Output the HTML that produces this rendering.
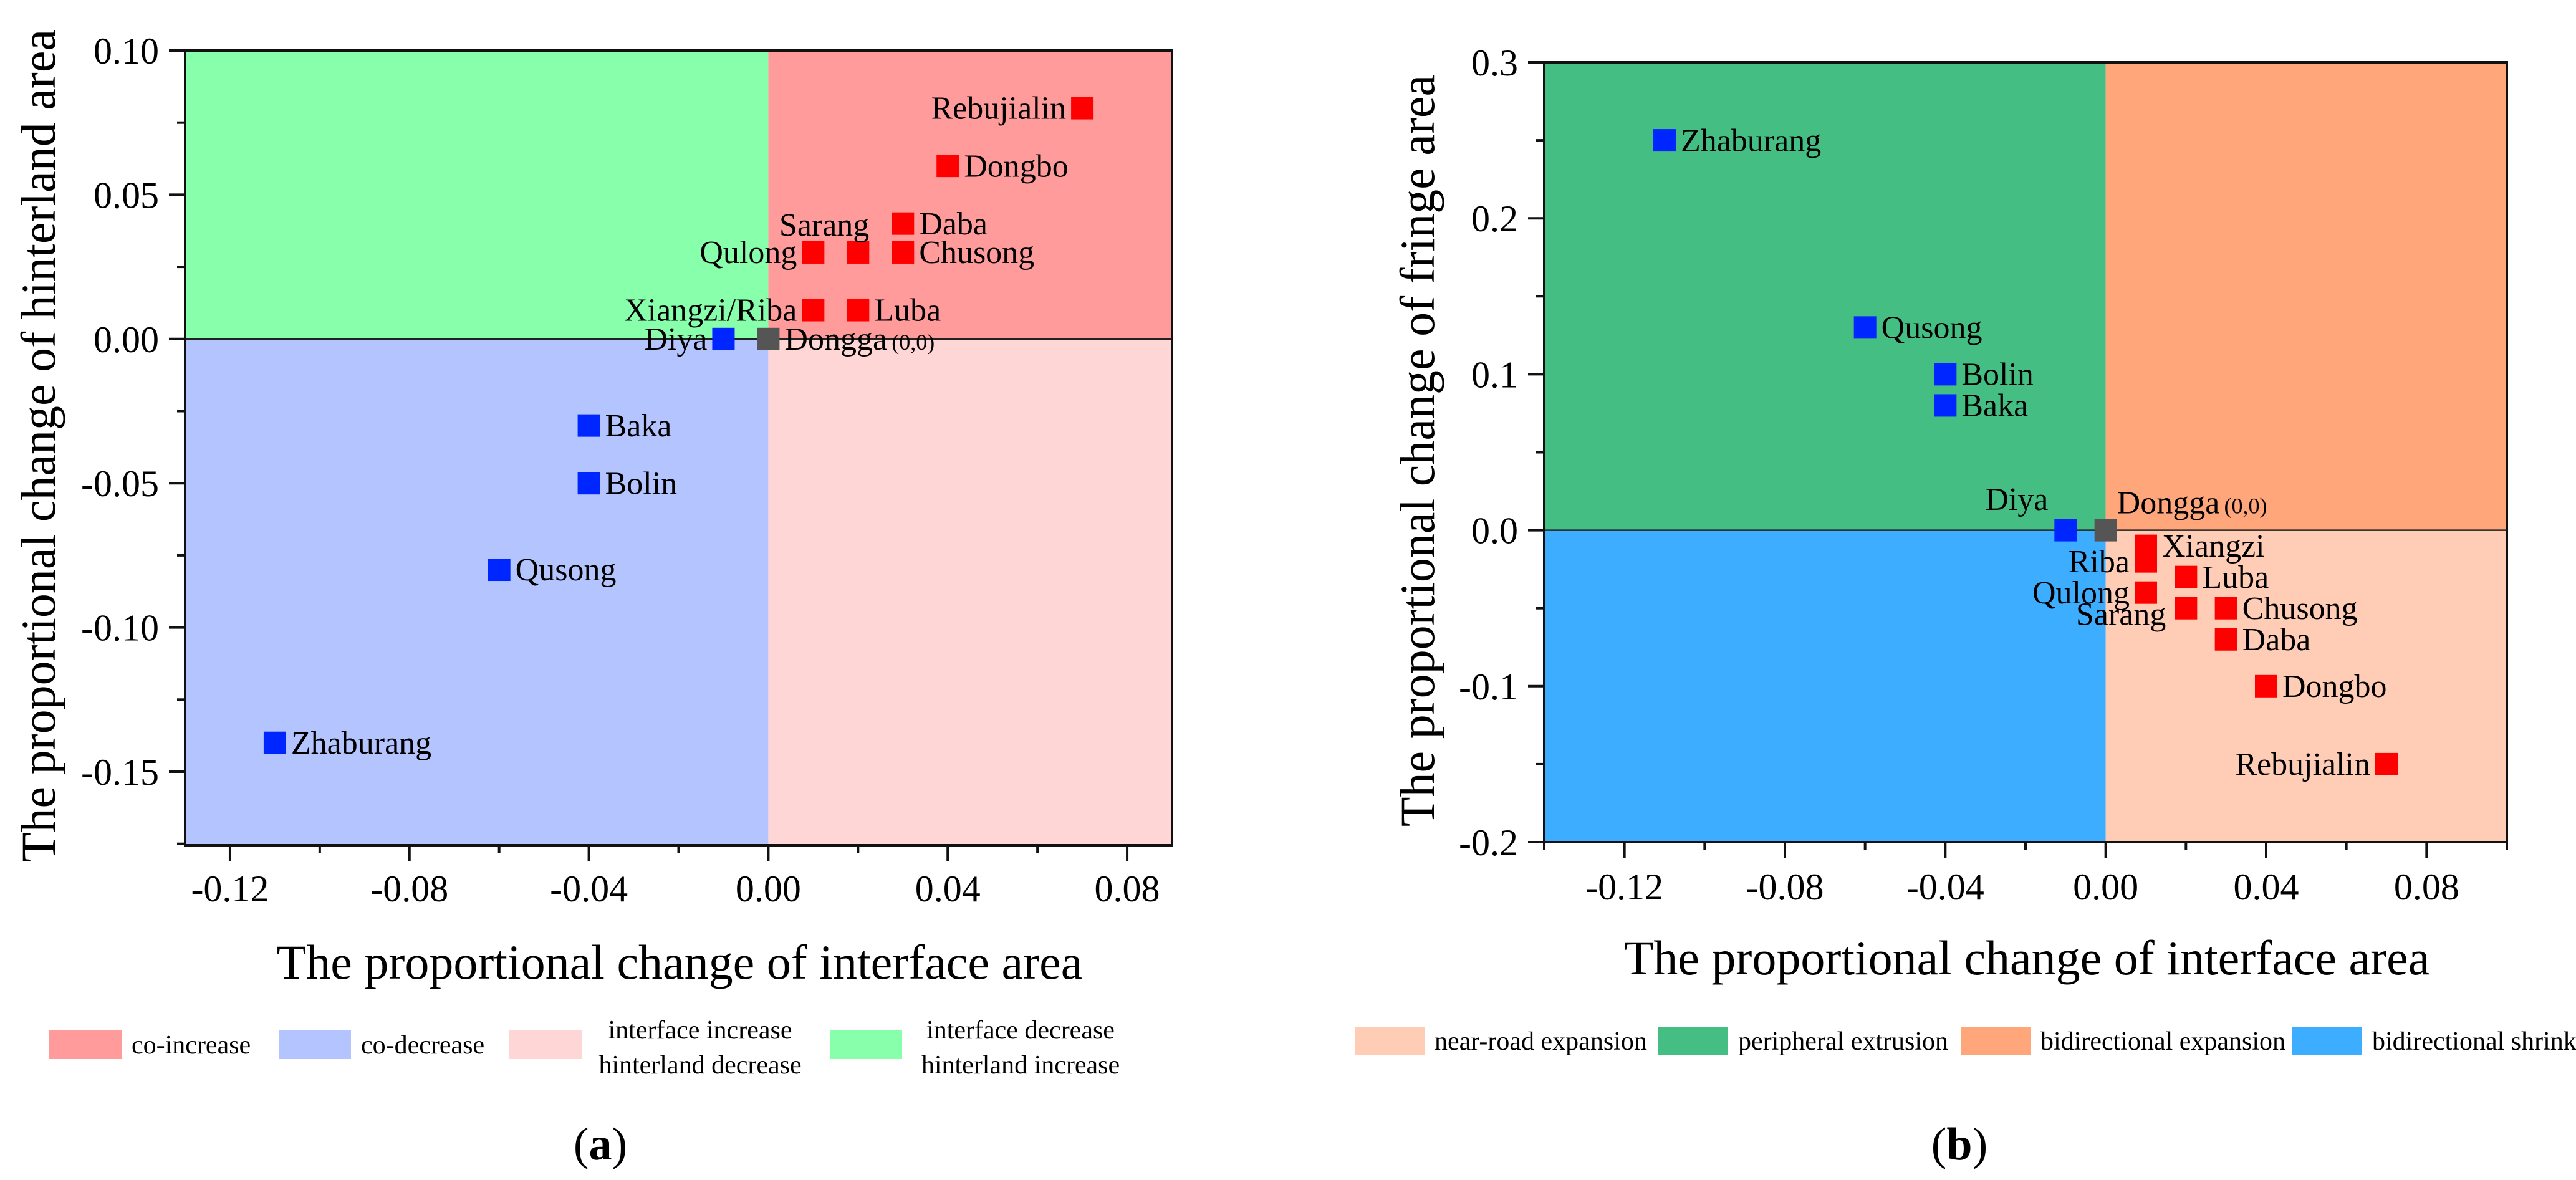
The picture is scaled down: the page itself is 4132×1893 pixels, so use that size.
<!DOCTYPE html>
<html><head><meta charset="utf-8"><style>
html,body{margin:0;padding:0;background:#fff;}
svg{display:block;font-family:"Liberation Serif",serif;}
</style></head><body>
<svg id="fig" width="4132" height="1893" viewBox="0 0 4132 1893" xmlns="http://www.w3.org/2000/svg">
<g id="chartA"></g>
<g id="chartB"></g>
</svg>
<script>
// ---- Chart (a) data ----
const namesA = ["Rebujialin","Dongbo","Daba","Sarang","Qulong","Chusong","Xiangzi/Riba","Luba","Diya","Dongga","Baka","Bolin","Qusong","Zhaburang"];
const xA = [0.07,0.04,0.03,0.02,0.01,0.03,0.01,0.02,-0.01,0,-0.04,-0.04,-0.06,-0.11];
const yA = [0.08,0.06,0.04,0.03,0.03,0.03,0.01,0.01,0,0,-0.03,-0.05,-0.08,-0.14];
const groupA = ["r","r","r","r","r","r","r","r","b","g","b","b","b","b"];
const placeA = ["l","r","r","tl","l","r","l","r","l","r","r","r","r","r"];
const xTicksA = [-0.12,-0.08,-0.04,0.00,0.04,0.08];
const xTickLabelsA = ["-0.12","-0.08","-0.04","0.00","0.04","0.08"];
const yTicksA = [0.10,0.05,0.00,-0.05,-0.10,-0.15];
const yTickLabelsA = ["0.10","0.05","0.00","-0.05","-0.10","-0.15"];
const legendA = ["co-increase","co-decrease","interface increase|hinterland decrease","interface decrease|hinterland increase"];

// ---- Chart (b) data ----
const namesB = ["Zhaburang","Qusong","Bolin","Baka","Diya","Dongga","Xiangzi","Riba","Qulong","Luba","Sarang","Chusong","Daba","Dongbo","Rebujialin"];
const xB = [-0.11,-0.06,-0.04,-0.04,-0.01,0,0.01,0.01,0.01,0.02,0.02,0.03,0.03,0.04,0.07];
const yB = [0.25,0.13,0.10,0.08,0,0,-0.01,-0.02,-0.04,-0.03,-0.05,-0.05,-0.07,-0.10,-0.15];
const groupB = ["b","b","b","b","b","g","r","r","r","r","r","r","r","r","r"];
const placeB = ["r","r","r","r","tL","tr","r","l","l","r","bl","r","r","r","l"];
const xTicksB = [-0.12,-0.08,-0.04,0.00,0.04,0.08];
const xTickLabelsB = ["-0.12","-0.08","-0.04","0.00","0.04","0.08"];
const yTicksB = [0.3,0.2,0.1,0.0,-0.1,-0.2];
const yTickLabelsB = ["0.3","0.2","0.1","0.0","-0.1","-0.2"];
const legendB = ["near-road expansion","peripheral extrusion","bidirectional expansion","bidirectional shrink"];

const NS="http://www.w3.org/2000/svg";
function mk(parent,tag,attrs,text){const e=document.createElementNS(NS,tag);for(const k in attrs)e.setAttribute(k,attrs[k]);if(text!==undefined)e.textContent=text;parent.appendChild(e);return e;}
const markerColor={r:"#ff0000",b:"#0026ff",g:"#555555"};

function drawChart(root,cfg){
  const {L,R,T,B,xmin,xmax,ymin,ymax}=cfg;
  const sx=v=>L+(v-xmin)/(xmax-xmin)*(R-L);
  const sy=v=>B-(v-ymin)/(ymax-ymin)*(B-T);
  const x0=sx(0),y0=sy(0);
  const quads=[[L,T,x0,y0,cfg.qTL,"quadrant-top-left"],[x0,T,R,y0,cfg.qTR,"quadrant-top-right"],[L,y0,x0,B,cfg.qBL,"quadrant-bottom-left"],[x0,y0,R,B,cfg.qBR,"quadrant-bottom-right"]];
  quads.forEach(q=>{const r=mk(root,"rect",{x:q[0],y:q[1],width:q[2]-q[0],height:q[3]-q[1],fill:q[4]});
    
    });
  const zl=mk(root,"line",{x1:L,x2:R,y1:y0,y2:y0,stroke:"#222",'stroke-width':2.5});
  
  
  const fr=mk(root,"rect",{x:L,y:T,width:R-L,height:B-T,fill:"none",stroke:"#111",'stroke-width':4});
  
  
  for(let v=cfg.xMinorStart; v<=xmax+1e-9; v+=cfg.xMinor){
    const X=sx(v);const major=cfg.xTicks.some(t=>Math.abs(t-v)<1e-6);
    mk(root,"line",{x1:X,x2:X,y1:B,y2:B+(major?26:13),stroke:"#111",'stroke-width':4});
  }
  cfg.xTicks.forEach((v,i)=>{const t=mk(root,"text",{x:sx(v),y:B+cfg.xLabOff,'font-size':60,'text-anchor':'middle'},cfg.xLabels[i]);
    
    });
  for(let v=cfg.yMinorStart; v<=ymax+1e-9; v+=cfg.yMinor){
    const Y=sy(v);const major=cfg.yTicks.some(t=>Math.abs(t-v)<1e-6);
    mk(root,"line",{x1:L-(major?26:13),x2:L,y1:Y,y2:Y,stroke:"#111",'stroke-width':4});
  }
  cfg.yTicks.forEach((v,i)=>{const t=mk(root,"text",{x:L-42,y:sy(v)+21,'font-size':60,'text-anchor':'end'},cfg.yLabels[i]);
    
    });
  const xt=mk(root,"text",{x:cfg.xTitleX,y:cfg.xTitleY,'font-size':78,'text-anchor':'middle'},"The proportional change of interface area");
  
  
  const yt=mk(root,"text",{x:0,y:0,'font-size':78,'text-anchor':'middle',transform:`translate(${cfg.yTitleX},${cfg.yTitleY}) rotate(-90)`},cfg.yTitle);
  
  
  const ms=36,fs=52;
  cfg.names.forEach((n,i)=>{
    const X=sx(cfg.xs[i]),Y=sy(cfg.ys[i]);
    const m=mk(root,"rect",{x:X-ms/2,y:Y-ms/2,width:ms,height:ms,fill:markerColor[cfg.groups[i]]});
    
    
    const p=cfg.place[i];let tx,ty,anc;
    if(p==="r"){tx=X+ms/2+8;ty=Y+fs*0.33;anc="start";}
    else if(p==="l"){tx=X-ms/2-8;ty=Y+fs*0.33;anc="end";}
    else if(p==="tl"){tx=X+ms/2;ty=Y-ms*0.75;anc="end";}
    else if(p==="tL"){tx=X-ms/2-10;ty=Y-ms*0.9;anc="end";}
    else if(p==="tr"){tx=X+ms/2;ty=Y-ms*0.75;anc="start";}
    else {tx=X-ms/2-14;ty=Y+ms*0.75;anc="end";}
    const t=mk(root,"text",{x:tx,y:ty,'font-size':fs,'text-anchor':anc},n);
    if(n==="Dongga"){mk(t,"tspan",{'font-size':36},"\u2009(0,0)");}
    
    
  });
  cfg.legend.forEach((lab,i)=>{
    const lx=cfg.legX[i];
    const sw=mk(root,"rect",{x:lx,y:cfg.legY,width:cfg.swW,height:cfg.swH,fill:cfg.legCol[i]});
    
    
    const parts=lab.split("|");
    if(parts.length===1){
      const t=mk(root,"text",{x:lx+cfg.swW+16,y:cfg.legY+cfg.swH/2+14,'font-size':42},lab);
      
      
    } else {
      parts.forEach((pt,j)=>{const t=mk(root,"text",{x:lx+cfg.swW+190,y:cfg.legY+cfg.swH/2-10+j*56,'font-size':42,'text-anchor':'middle'},pt);
        
        });
    }
  });
  const sl=mk(root,"text",{x:cfg.subX,y:1860,'font-size':74,'text-anchor':'middle'},"(");
  mk(sl,"tspan",{'font-weight':'bold'},cfg.sub);
  mk(sl,"tspan",{},")");
  
  
}

drawChart(document.getElementById("chartA"),{
  L:297,R:1880,T:81,B:1356,xmin:-0.13,xmax:0.09,ymin:-0.1755,ymax:0.10,
  qTL:"#87ffab",qTR:"#ff9b9b",qBL:"#b4c4ff",qBR:"#ffd6d6",
  xTicks:xTicksA,xLabels:xTickLabelsA,yTicks:yTicksA,yLabels:yTickLabelsA,
  xMinor:0.02,xMinorStart:-0.12,yMinor:0.025,yMinorStart:-0.175,xLabOff:90,
  xTitleX:1090,xTitleY:1570,yTitleX:88,yTitleY:715,yTitle:"The proportional change of hinterland area",
  names:namesA,xs:xA,ys:yA,groups:groupA,place:placeA,
  legend:legendA,legX:[79,447,817,1331],legY:1653,swW:116,swH:46,
  legCol:["#ff9b9b","#b4c4ff","#ffd6d6","#87ffab"],subX:963,sub:"a"
});
drawChart(document.getElementById("chartB"),{
  L:2477,R:4021,T:100,B:1351,xmin:-0.14,xmax:0.10,ymin:-0.2,ymax:0.3,
  qTL:"#44be82",qTR:"#ffa67b",qBL:"#3daeff",qBR:"#ffcdb5",
  xTicks:xTicksB,xLabels:xTickLabelsB,yTicks:yTicksB,yLabels:yTickLabelsB,
  xMinor:0.02,xMinorStart:-0.14,yMinor:0.05,yMinorStart:-0.2,xLabOff:92,
  xTitleX:3251,xTitleY:1563,yTitleX:2300,yTitleY:723,yTitle:"The proportional change of fringe area",
  names:namesB,xs:xB,ys:yB,groups:groupB,place:placeB,
  legend:legendB,legX:[2173,2660,3145,3677],legY:1648,swW:112,swH:44,
  legCol:["#ffcdb5","#44be82","#ffa67b","#3daeff"],subX:3143,sub:"b"
});
</script>
</body></html>
